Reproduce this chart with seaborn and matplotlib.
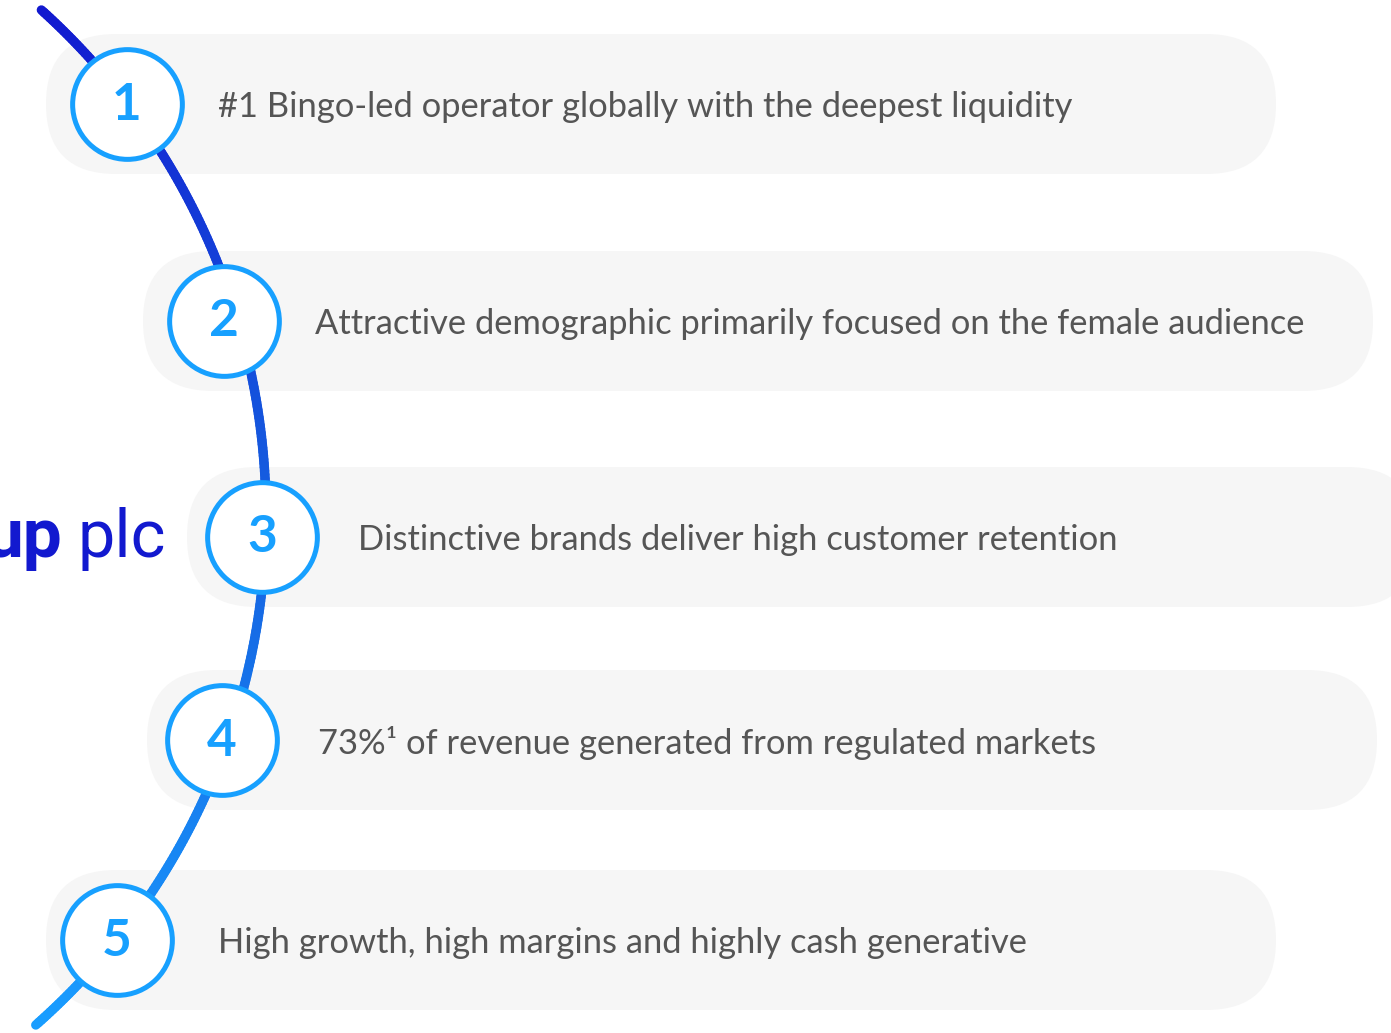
import numpy as np
import seaborn as sns
import matplotlib.pyplot as plt
import pandas as pd
from matplotlib.collections import LineCollection
from matplotlib.colors import LinearSegmentedColormap
from matplotlib.patches import FancyBboxPatch

# content
numbers = ["1", "2", "3", "4", "5"]
statements = [
    "#1 Bingo-led operator globally with the deepest liquidity",
    "Attractive demographic primarily focused on the female audience",
    "Distinctive brands deliver high customer retention",
    "73%¹ of revenue generated from regulated markets",
    "High growth, high margins and highly cash generative",
]
logo_bold = "up"
logo_light = "plc"

# layout (pixel coordinates, y down)
row_y = [104, 321, 537, 740, 940]
circle_x = [127, 224, 262, 222, 117]
pill_left = [46, 143, 187, 147, 46]
text_x = [218, 315, 358, 318, 218]
PILL_W, PILL_H = 1230, 140
W, H = 1391, 1033

sns.set_theme(style="white")
plt.rcParams["font.family"] = ["Lato", "DejaVu Sans"]

fig = plt.figure(figsize=(W / 100, H / 100), dpi=100)
ax = fig.add_axes([0, 0, 1, 1])
ax.set_xlim(0, W)
ax.set_ylim(H, 0)
ax.axis("off")

# grey pills
for left, y in zip(pill_left, row_y):
    ax.add_patch(FancyBboxPatch((left, y - PILL_H / 2), PILL_W, PILL_H,
                                boxstyle="round,pad=0,rounding_size=70",
                                fc="#f6f6f6", ec="none", zorder=1))

# gradient arc
cx, cy, R = -414, 515, 680
t = np.linspace(np.arcsin((10 - cy) / R), np.arcsin((1025 - cy) / R), 300)
arc_x = cx + R * np.cos(t)
arc_y = cy + R * np.sin(t)
pts = np.column_stack([arc_x, arc_y]).reshape(-1, 1, 2)
segs = np.concatenate([pts[:-1], pts[1:]], axis=1)
cmap = LinearSegmentedColormap.from_list("arc", ["#1219cf", "#1560e0", "#199dff"])
lc = LineCollection(segs, colors=cmap(np.linspace(0, 1, len(segs))),
                    linewidths=6.8, capstyle="round", zorder=2)
ax.add_collection(lc)

# numbered circles
df = pd.DataFrame({"x": circle_x, "y": row_y, "n": numbers})
sns.scatterplot(data=df, x="x", y="y", ax=ax, s=79 ** 2, color="white",
                edgecolor="#17a0ff", linewidth=3.6, zorder=3, legend=False)
for _, r in df.iterrows():
    ax.text(r["x"], r["y"] + 1, r["n"], ha="center", va="center", fontsize=37,
            fontweight="bold", color="#17a0ff", zorder=4)

# statements
for x, y, s in zip(text_x, row_y, statements):
    ax.text(x, y + 3, s, ha="left", va="center", fontsize=24.8, color="#555555", zorder=4)

# partial logo
ax.text(62, 557, logo_bold, ha="right", va="baseline", fontsize=50,
        fontweight="bold", color="#1219cf", family=["Roboto", "DejaVu Sans"], zorder=4)
ax.text(77, 557, logo_light, ha="left", va="baseline", fontsize=48,
        fontweight="normal", color="#1219cf", family=["Roboto", "DejaVu Sans"], zorder=4)

fig.savefig("out.png", dpi=100, facecolor="white")
